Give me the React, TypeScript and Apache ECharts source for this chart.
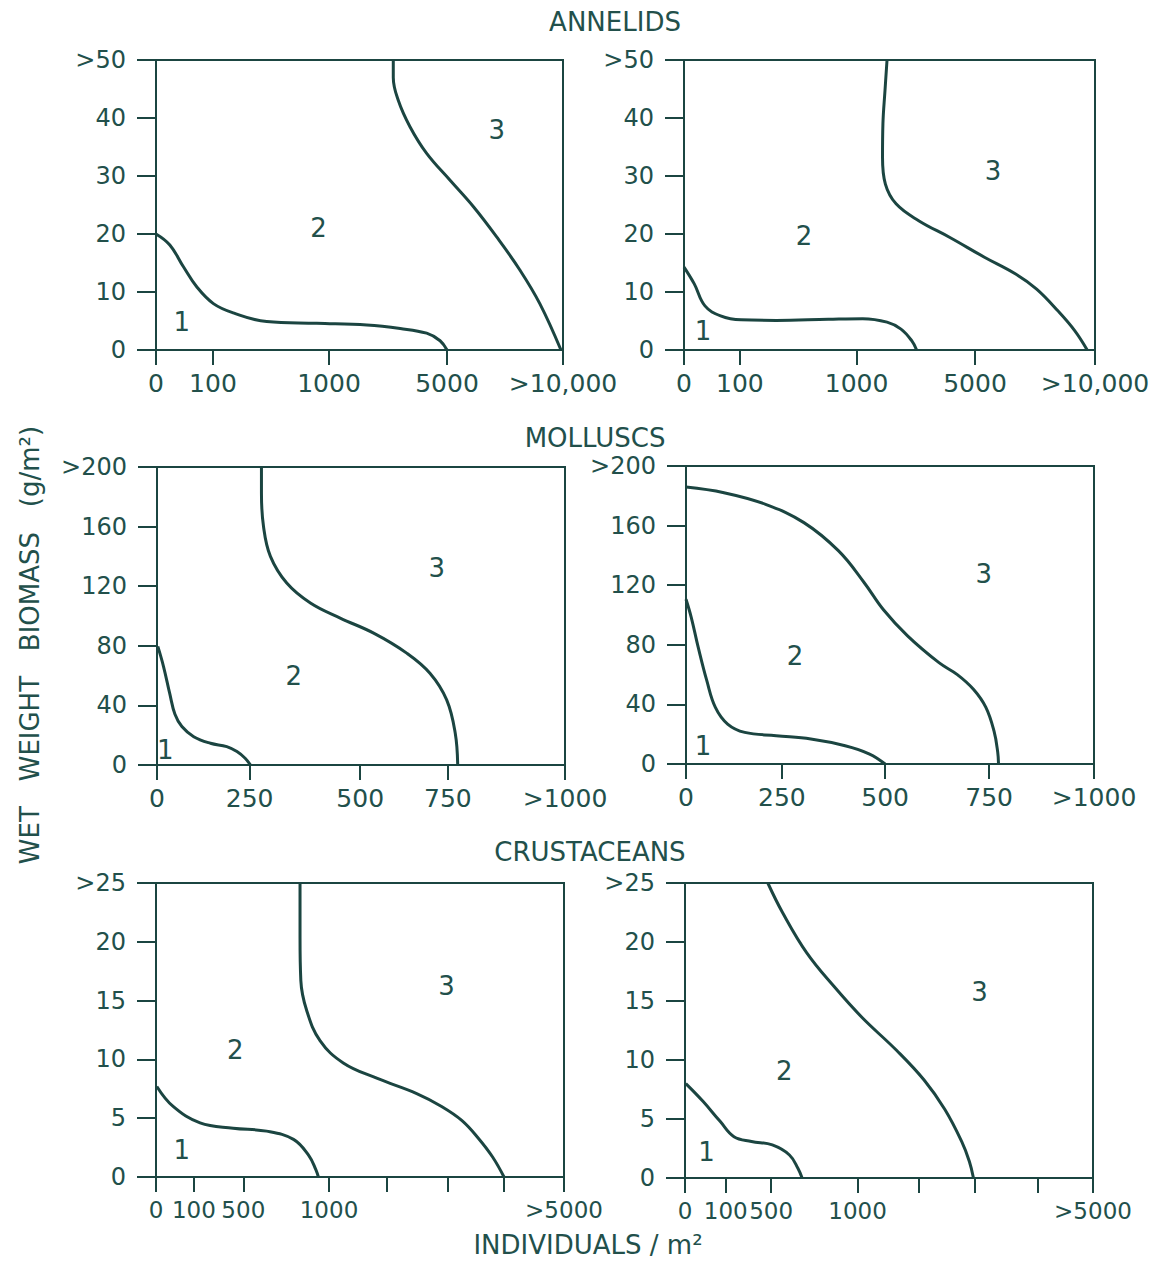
import React, { useEffect, useRef } from 'react';
import * as echarts from 'echarts';

const LINE = '#1b4541';
const TEXT = '#22504b';
const FONT = "'DejaVu Sans', sans-serif";

// ---------- ANNELIDS ----------
const annelidsTickLabels = ['0', '100', '1000', '5000', '>10,000'];
const annelidsLeftTicks = [0, 14, 42.5, 71.5, 100];
const annelidsRightTicks = [0, 13.6, 42, 70.8, 100];
const annelidsYMax = 50;
const annelidsYStep = 10;
const annelidsLeftB12 = [[0, 20], [3.4, 18.1], [6.7, 14.4], [10, 10.9], [14.1, 8.0], [19, 6.4], [27.2, 4.9], [39.5, 4.6], [51.8, 4.3], [60, 3.7], [66.5, 2.9], [69.8, 1.6], [71.5, 0]];
const annelidsLeftB23 = [[58.3, 50], [58.3, 47], [59.5, 43.1], [62.4, 38.5], [66.5, 33.9], [72.2, 29.3], [78, 24.7], [83.7, 19.5], [89.4, 13.8], [94.3, 8], [99.5, 0]];
const annelidsLeftRegions = [[6.3, 4.9, '1'], [39.9, 21, '2'], [83.7, 37.9, '3']];
const annelidsRightB12 = [[0, 14.3], [2.5, 11.4], [5.1, 7.6], [8.9, 5.9], [13.9, 5.2], [22.4, 5.1], [35.1, 5.3], [43.5, 5.4], [49.4, 4.8], [52.8, 3.6], [55.4, 1.6], [56.6, 0]];
const annelidsRightB23 = [[49.4, 50], [48.9, 44.7], [48.4, 39], [48.3, 33.2], [49, 28.6], [51.6, 25.2], [57.1, 22.3], [64.7, 19.4], [73.1, 16], [80.7, 13.1], [85.8, 10.5], [90.9, 6.8], [95.1, 3.3], [98.1, 0]];
const annelidsRightRegions = [[4.6, 3.3, '1'], [29.2, 19.7, '2'], [75.2, 30.9, '3']];

// ---------- MOLLUSCS ----------
const molluscsTickLabels = ['0', '250', '500', '750', '>1000'];
const molluscsLeftTicks = [0, 22.7, 49.8, 71.3, 100];
const molluscsRightTicks = [0, 23.5, 48.8, 74.3, 100];
const molluscsYMax = 200;
const molluscsYStep = 40;
const molluscsLeftB12 = [[0.2, 79.6], [1.6, 66.1], [3.1, 48.2], [4.4, 34], [6.1, 25.8], [9, 19], [13.1, 14.6], [17.1, 12.3], [19.6, 9], [21.6, 4.5], [22.9, 0]];
const molluscsLeftB23 = [[25.6, 200], [25.6, 182.6], [26.1, 160.2], [27.8, 140], [31.8, 122.1], [37.6, 108.7], [44.9, 98.6], [53.1, 88.5], [61.2, 75.1], [66.9, 61.6], [71, 43.7], [73.1, 21.3], [73.7, 0]];
const molluscsLeftRegions = [[2, 10, '1'], [33.5, 59.4, '2'], [68.6, 132.2, '3']];
const molluscsRightB12 = [[0, 110.6], [1.3, 98.3], [3, 78.2], [5.1, 55.9], [7.2, 38], [10.2, 26.8], [14.4, 21.2], [22.1, 19], [30.6, 16.8], [39, 12.3], [45, 6.7], [48.8, 0]];
const molluscsRightB23 = [[0, 185.9], [9.3, 182.1], [19.5, 174.3], [28.9, 162], [37.4, 143], [43.6, 122], [48.4, 103.5], [54.3, 86], [62, 68], [66.5, 60], [70.5, 50], [73.5, 38], [75.5, 22], [76.4, 8], [76.6, 0]];
const molluscsRightRegions = [[4.2, 12.3, '1'], [26.7, 72.6, '2'], [73, 127.4, '3']];

// ---------- CRUSTACEANS ----------
const crustTickLabels = ['0', '100', '500', '1000', '', '', '', '>5000'];
const crustLeftTicks = [0, 9.3, 21.4, 42.4, 56.6, 71.6, 85.3, 100];
const crustRightTicks = [0, 10, 21.1, 42.3, 57.3, 70.9, 86.4, 100];
const crustYMax = 25;
const crustYStep = 5;
const crustLeftB12 = [[0.2, 7.7], [4.2, 6.0], [10.8, 4.6], [18.9, 4.15], [27.1, 3.9], [33.7, 3.2], [37.5, 1.8], [39.2, 0.6], [39.8, 0]];
const crustLeftB23 = [[35.3, 25], [35.3, 20.4], [35.5, 16.7], [36.9, 14.2], [40.2, 11.6], [45.9, 9.7], [54.1, 8.4], [63.9, 7.1], [70, 6.0], [75, 4.8], [79, 3.3], [82.5, 1.7], [85.3, 0]];
const crustLeftRegions = [[6.3, 2.3, '1'], [19.4, 10.8, '2'], [71.2, 16.2, '3']];
const crustRightB12 = [[0.2, 8.0], [4.4, 6.5], [8.6, 4.8], [12, 3.5], [16.3, 3.1], [21.4, 2.8], [25.6, 1.95], [27.7, 0.8], [28.7, 0]];
const crustRightB23 = [[20.3, 25], [23.9, 22.5], [29.8, 19.1], [36.6, 16.2], [43.4, 13.6], [51.9, 10.8], [58.6, 8.3], [63.7, 5.8], [67.8, 3.1], [69.7, 1.4], [70.7, 0]];
const crustRightRegions = [[5.3, 2.2, '1'], [24.3, 9.1, '2'], [72.2, 15.8, '3']];

type Panel = {
  box: { left: number; top: number; width: number; height: number };
  ticks: number[];
  labels: string[];
  labelSize: number;
  yMax: number;
  yStep: number;
  b12: number[][];
  b23: number[][];
  regions: (number | string)[][];
};

const panels: Panel[] = [
  { box: { left: 156, top: 60, width: 407, height: 290 }, ticks: annelidsLeftTicks, labels: annelidsTickLabels, labelSize: 25, yMax: annelidsYMax, yStep: annelidsYStep, b12: annelidsLeftB12, b23: annelidsLeftB23, regions: annelidsLeftRegions },
  { box: { left: 684, top: 60, width: 411, height: 290 }, ticks: annelidsRightTicks, labels: annelidsTickLabels, labelSize: 25, yMax: annelidsYMax, yStep: annelidsYStep, b12: annelidsRightB12, b23: annelidsRightB23, regions: annelidsRightRegions },
  { box: { left: 157, top: 467, width: 408, height: 298 }, ticks: molluscsLeftTicks, labels: molluscsTickLabels, labelSize: 25, yMax: molluscsYMax, yStep: molluscsYStep, b12: molluscsLeftB12, b23: molluscsLeftB23, regions: molluscsLeftRegions },
  { box: { left: 686, top: 466, width: 408, height: 298 }, ticks: molluscsRightTicks, labels: molluscsTickLabels, labelSize: 25, yMax: molluscsYMax, yStep: molluscsYStep, b12: molluscsRightB12, b23: molluscsRightB23, regions: molluscsRightRegions },
  { box: { left: 156, top: 883, width: 408, height: 294 }, ticks: crustLeftTicks, labels: crustTickLabels, labelSize: 23, yMax: crustYMax, yStep: crustYStep, b12: crustLeftB12, b23: crustLeftB23, regions: crustLeftRegions },
  { box: { left: 685, top: 883, width: 408, height: 295 }, ticks: crustRightTicks, labels: crustTickLabels, labelSize: 23, yMax: crustYMax, yStep: crustYStep, b12: crustRightB12, b23: crustRightB23, regions: crustRightRegions },
];

function buildOption() {
  const grid: any[] = [];
  const xAxis: any[] = [];
  const yAxis: any[] = [];
  const series: any[] = [];
  panels.forEach((p, i) => {
    grid.push({ ...p.box, show: true, borderColor: LINE, borderWidth: 2, backgroundColor: 'transparent', containLabel: false });
    const labelPos = p.ticks.filter((_, k) => p.labels[k] !== '');
    xAxis.push({
      type: 'value', gridIndex: i, min: 0, max: 100,
      axisLine: { show: true, onZero: false, lineStyle: { color: LINE, width: 2 } },
      axisTick: { show: true, inside: false, length: 15, customValues: p.ticks, lineStyle: { color: LINE, width: 2 } },
      axisLabel: {
        show: true, customValues: labelPos, margin: 21, color: TEXT, fontFamily: FONT, fontSize: p.labelSize,
        showMinLabel: true, showMaxLabel: true,
        formatter: (v: number) => {
          let best = 0; let d = Infinity;
          p.ticks.forEach((t, k) => { const dd = Math.abs(t - v); if (dd < d) { d = dd; best = k; } });
          return p.labels[best];
        },
      },
      splitLine: { show: false },
    });
    yAxis.push({
      type: 'value', gridIndex: i, min: 0, max: p.yMax, interval: p.yStep,
      axisLine: { show: true, onZero: false, lineStyle: { color: LINE, width: 2 } },
      axisTick: { show: true, inside: false, length: 19, lineStyle: { color: LINE, width: 2 } },
      axisLabel: {
        show: true, margin: 30, color: TEXT, fontFamily: FONT, fontSize: 24,
        showMinLabel: true, showMaxLabel: true,
        formatter: (v: number) => (v === p.yMax ? '>' + v : String(v)),
      },
      splitLine: { show: false },
    });
    [p.b12, p.b23].forEach((d) => {
      series.push({
        type: 'line', xAxisIndex: i, yAxisIndex: i, data: d, smooth: 0.4,
        showSymbol: false, symbol: 'none', clip: false,
        lineStyle: { color: LINE, width: 3 },
      });
    });
    series.push({
      type: 'scatter', xAxisIndex: i, yAxisIndex: i, data: p.regions,
      symbol: 'circle', symbolSize: 1, itemStyle: { color: 'rgba(0,0,0,0)', opacity: 1 },
      label: {
        show: true, position: 'inside', color: TEXT, opacity: 1, fontFamily: FONT, fontSize: 26,
        formatter: (q: any) => q.data[2],
      },
    });
  });

  const titleStyle = { fill: TEXT, font: `26px ${FONT}`, textAlign: 'center', textVerticalAlign: 'middle' };
  const graphic = [
    { type: 'text', x: 615, y: 22, style: { ...titleStyle, text: 'ANNELIDS' } },
    { type: 'text', x: 595, y: 438, style: { ...titleStyle, text: 'MOLLUSCS' } },
    { type: 'text', x: 590, y: 852, style: { ...titleStyle, text: 'CRUSTACEANS' } },
    { type: 'text', x: 588, y: 1245, style: { ...titleStyle, text: 'INDIVIDUALS / m²' } },
    { type: 'text', x: 30, y: 645, rotation: Math.PI / 2, style: { ...titleStyle, text: 'WET   WEIGHT   BIOMASS   (g/m²)' } },
  ];

  return {
    animation: false,
    backgroundColor: '#ffffff',
    grid, xAxis, yAxis, series, graphic,
  };
}

export default function App() {
  const ref = useRef<HTMLDivElement>(null);
  useEffect(() => {
    if (!ref.current) return;
    const chart = echarts.init(ref.current, null, { renderer: 'svg' });
    chart.setOption(buildOption() as any);
    return () => chart.dispose();
  }, []);
  return <div ref={ref} style={{ position: 'absolute', left: 0, top: 0, width: 1163, height: 1263, background: '#fff' }} />;
}
